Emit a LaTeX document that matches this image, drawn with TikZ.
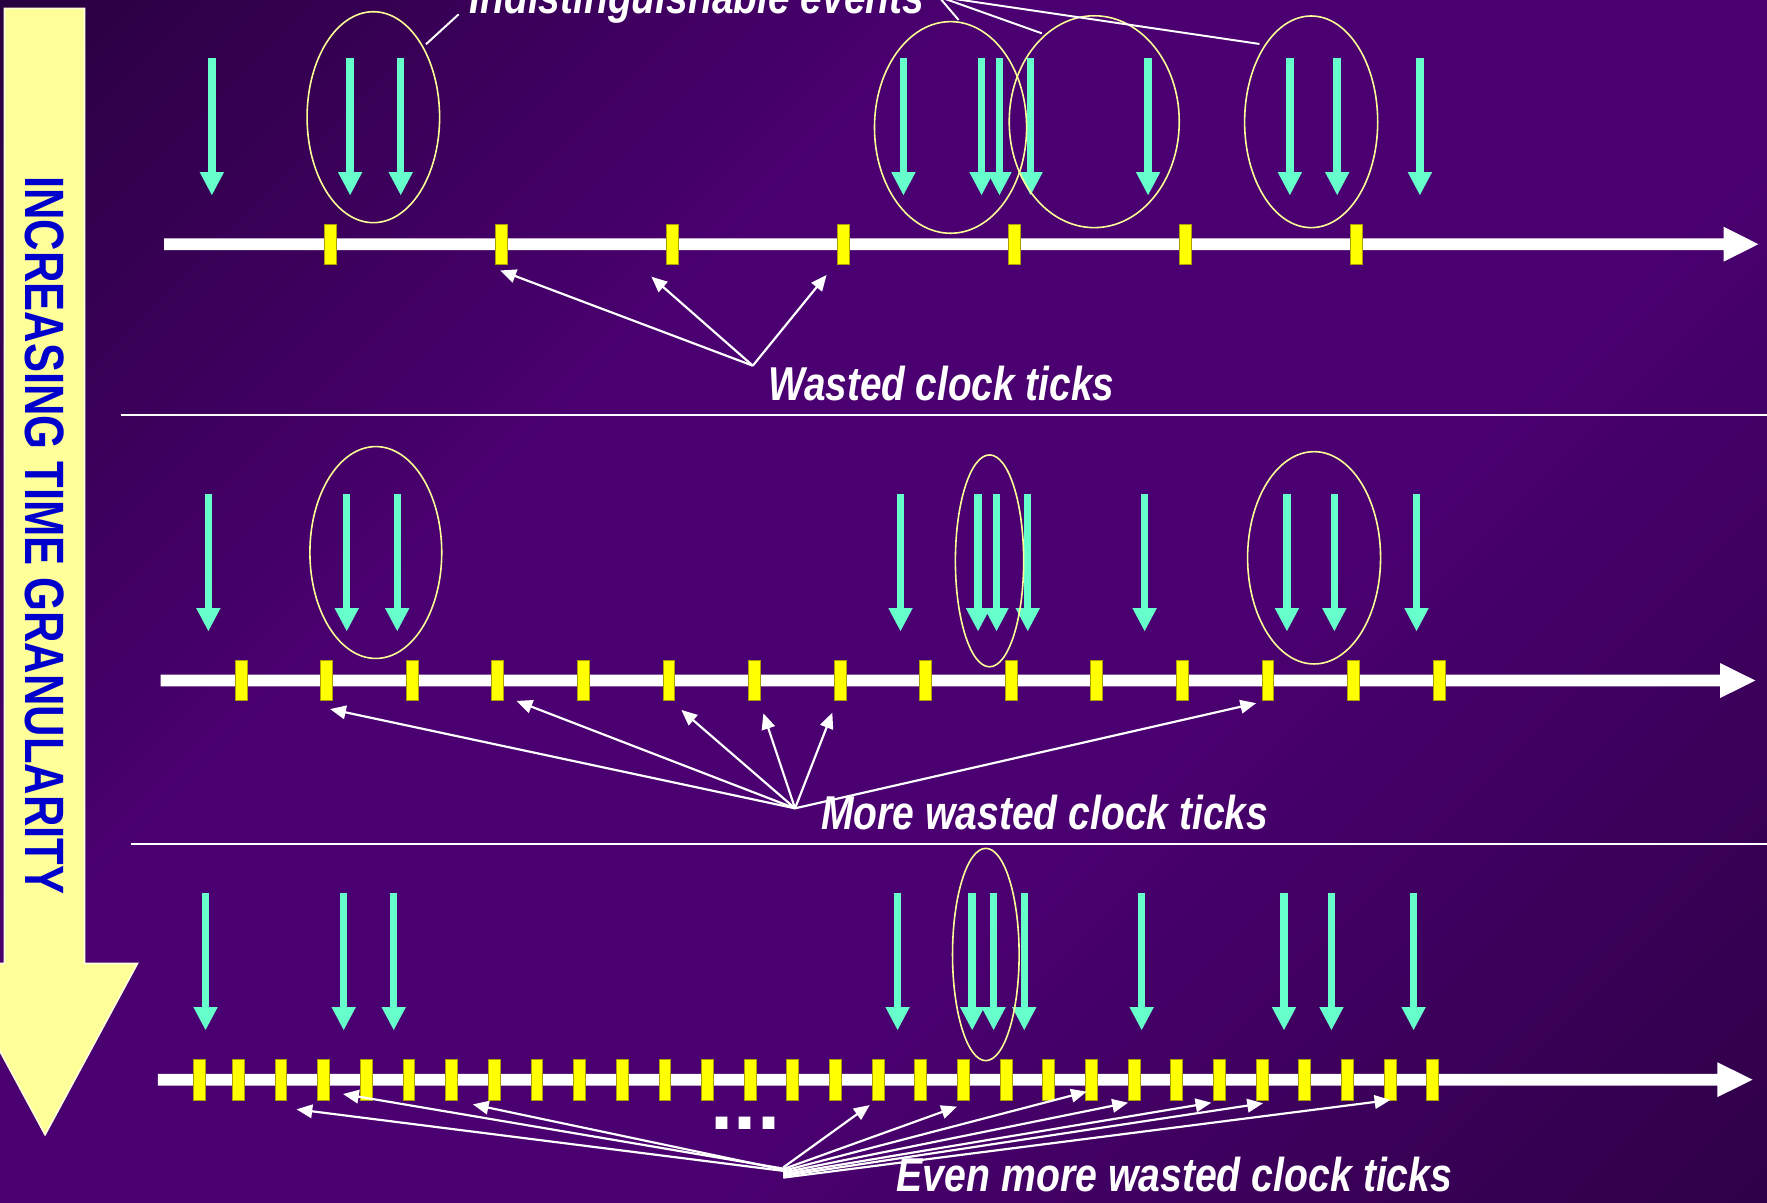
\documentclass[tikz,border=0pt]{standalone}
\usepackage{fontspec}
\usepackage{graphicx}
\setmainfont{Liberation Sans}
\usetikzlibrary{arrows.meta,shapes.geometric}

\definecolor{bgA}{RGB}{40,0,62}
\definecolor{bgM}{RGB}{74,0,112}
\definecolor{bgB}{RGB}{46,0,70}
\definecolor{evtcol}{RGB}{102,255,204}
\definecolor{tickcol}{RGB}{255,255,0}
\definecolor{tickedge}{RGB}{170,160,0}
\definecolor{ringcol}{RGB}{255,255,150}
\definecolor{pale}{RGB}{255,255,153}
\definecolor{deepblue}{RGB}{0,0,204}

% diagonal background: dark corners, brighter purple band in the middle
\pgfdeclareverticalshading{bgshade}{100bp}{color(0bp)=(bgB); color(14bp)=(bgB); color(40bp)=(bgM); color(62bp)=(bgM); color(86bp)=(bgA); color(100bp)=(bgA)}

\newcommand\narrow[2]{\scalebox{#1}[1]{#2}}

\begin{document}
\begin{tikzpicture}[x=0.1mm,y=-0.1mm,
  ring/.style={draw=ringcol, line width=0.4pt, ellipse, inner sep=0pt},
  clk/.style={fill=tickcol, draw=tickedge, line width=0.2pt, minimum width=1.05mm, minimum height=3.6mm, inner sep=0pt},
  ptr/.style={draw=white, line width=0.55pt, -{Triangle[length=1.4mm,width=1.2mm]}},
  lead/.style={draw=white, line width=0.5pt},
  lbl/.style={text=white, inner sep=0pt, anchor=base west, font=\fontsize{12pt}{14pt}\selectfont\bfseries\itshape},
  evtarrow/.pic={
    \fill[evtcol] (-3.3,0) rectangle (3.3,101.5);
    \fill[evtcol] (-10.8,101) -- (10.8,101) -- (0,121.3) -- cycle;
  }]

\useasboundingbox (0,0) rectangle (1568,1067.5);
\clip (0,0) rectangle (1568,1067.5);
\shade[shading=bgshade, shading angle=45] (0,0) rectangle (1568,1067.5);

% big downward arrow with its caption
\filldraw[fill=pale, draw=white!70!pale, line width=0.4pt]
  (4,7.4) -- (75,7.4) -- (75,855) -- (122,855) -- (40,1007) -- (-42,855) -- (4,855) -- cycle;
\node[rotate=-90, text=deepblue, inner sep=0pt, font=\fontsize{14pt}{16pt}\selectfont\bfseries]
  (gran) at (39.5,475) {\narrow{0.785}{INCREASING TIME GRANULARITY}};

% separators between the three time lines
\draw[white, line width=0.45pt] (107,368.3) -- (1568,368.3);
\draw[white, line width=0.45pt] (116.2,749) -- (1568,749);

% time lines
\foreach \yy/\xs/\xb/\xt in {216.7/145.7/1529.5/1560.3, 603.9/142.6/1526.4/1557.7, 958.1/140.1/1523.9/1555.2}
  \fill[white] (\xs,\yy-5.2) -- (\xb,\yy-5.2) -- (\xb,\yy-15.5) -- (\xt,\yy)
    -- (\xb,\yy+15.5) -- (\xb,\yy+5.2) -- (\xs,\yy+5.2) -- cycle;

% clock ticks
\foreach \k in {0,...,6} \node[clk] (a\k) at ({293+151.77*\k},216.7) {};
\foreach \k in {0,...,14} \node[clk] (b\k) at ({213.9+75.93*\k},603.9) {};
\node[clk] (c0) at (177.3,958.1) {};
\foreach \k in {1,...,29} \node[clk] (c\k) at ({211.4+37.855*(\k-1)},958.1) {};

% events
\foreach \x in {188,310.7,355.6,801.7,871,886.9,914.5,1018.8,1144.6,1186.6,1260}
  \pic at (\x,51.8) {evtarrow};
\foreach \x in {184.9,307.7,352.5,799.1,867.9,884.3,912,1015.7,1142,1184.1,1257}
  \pic at (\x,438.7) {evtarrow};
\foreach \x in {182.4,305,349.4,796.5,862.7,881.7,908.9,1013.1,1139.4,1181.5,1254.4}
  \pic at (\x,792.7) {evtarrow};

% groups of events that one tick cannot tell apart
\node[ring, minimum width=11.76mm, minimum height=18.72mm] (e1) at (331.3,104) {};
\node[ring, minimum width=13.5mm,  minimum height=18.78mm] (e2) at (843.5,113.1) {};
\node[ring, minimum width=15.09mm, minimum height=18.8mm]  (e3) at (971,108) {};
\node[ring, minimum width=11.81mm, minimum height=18.78mm] (e4) at (1163.5,108.1) {};
\node[ring, minimum width=11.7mm,  minimum height=18.8mm]  (e5) at (333.5,490.3) {};
\node[ring, minimum width=6.06mm,  minimum height=18.8mm]  (e6) at (878.1,497.7) {};
\node[ring, minimum width=11.8mm,  minimum height=18.84mm] (e7) at (1166.1,495) {};
\node[ring, minimum width=5.91mm,  minimum height=18.84mm] (e8) at (874.8,847) {};

% heading and its leader lines
\node[lbl] (ttl) at (416,12.4) {\narrow{0.82}{Indistinguishable events}};
\coordinate (tA) at (407,12.7);
\coordinate (tA1) at (378,39.3);
\draw[lead] (tA) -- (tA1);
\coordinate (tB) at (833,-3);
\coordinate (tB2) at (850.6,17.7);
\coordinate (tB3) at (924.5,29.6);
\coordinate (tB4) at (1117.6,39);
\draw[lead] (tB) -- (tB2);
\draw[lead] (tB) -- (tB3);
\draw[lead] (tB) -- (tB4);

% first row: wasted ticks
\node[lbl] (lw1) at (681,355) {\narrow{0.815}{Wasted clock ticks}};
\coordinate (w1) at (668,324.5);
\foreach \n/\x/\y in {1/444/240, 2/578/245.5, 3/733.5/244} {
  \coordinate (p1-\n) at (\x,\y);
  \draw[ptr] (w1) -- (p1-\n);
}

% second row
\node[lbl] (lw2) at (728,736) {\narrow{0.822}{More wasted clock ticks}};
\coordinate (w2) at (705.5,717.3);
\foreach \n/\x/\y in {1/292.9/629.2, 2/458.4/622, 3/604.6/630, 4/677.4/633, 5/738.6/632.4, 6/1114.7/624} {
  \coordinate (p2-\n) at (\x,\y);
  \draw[ptr] (w2) -- (p2-\n);
}

% third row
\node[lbl] (lw3) at (795,1057.5) {\narrow{0.825}{Even more wasted clock ticks}};
\node[text=white, inner sep=0pt, anchor=base, font=\fontsize{21pt}{24pt}\selectfont\bfseries] (dots) at (661.5,1002) {...};
\coordinate (w3) at (695,1036);
\foreach \n/\x/\y/\s in {1/263.1/984.4/0.3, 2/304.4/970.8/0.1, 3/419.6/980/0.2,
                         4/771.8/980.6/0.0, 5/849.2/982/0.15, 6/964.4/968.7/0.3, 7/1001/978.5/0.45,
                         8/1074.9/978.5/0.6, 9/1120.8/979/0.75, 10/1233.8/976.1/0.9} {
  \coordinate (p3-\n) at (\x,\y);
  \draw[ptr] ([yshift=-\s mm]w3) -- (p3-\n);
}
\end{tikzpicture}
\end{document}
